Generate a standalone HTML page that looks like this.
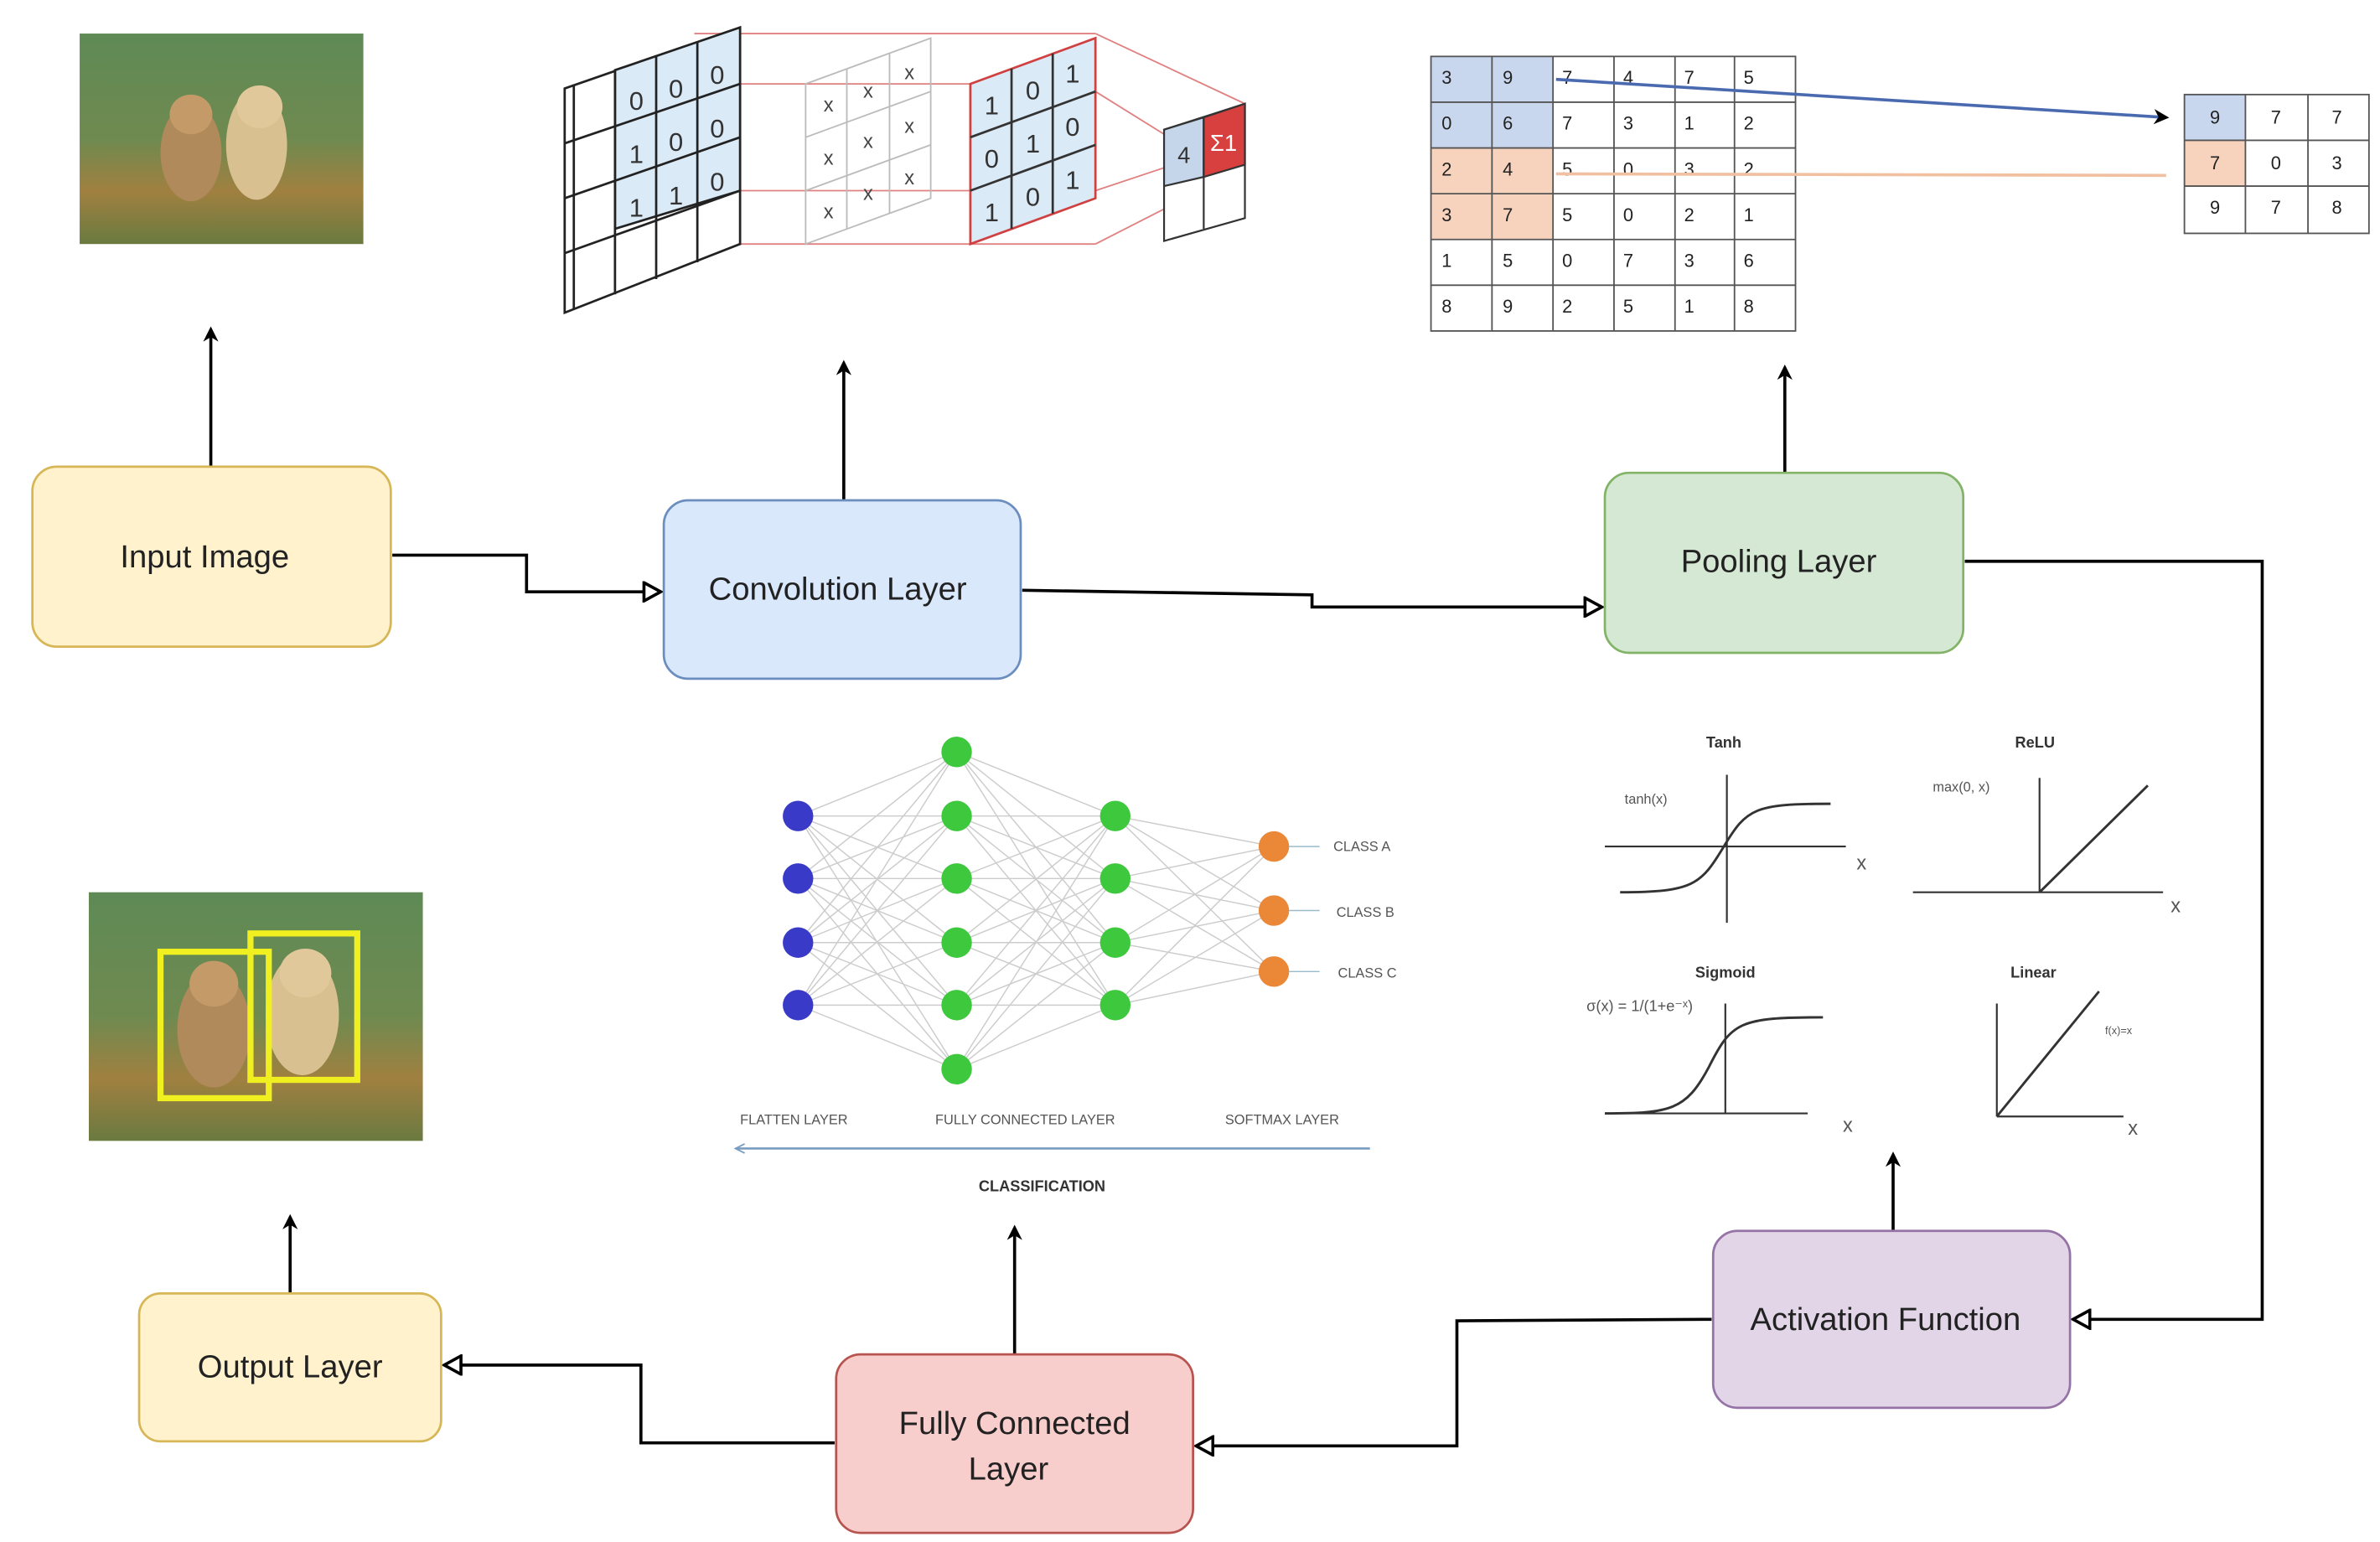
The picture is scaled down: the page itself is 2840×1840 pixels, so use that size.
<!DOCTYPE html>
<html><head><meta charset="utf-8"><style>
html,body{margin:0;padding:0;background:#fff}
svg{display:block}
text{font-family:"Liberation Sans",sans-serif}
</style></head><body>
<svg width="2840" height="1840" viewBox="0 0 1560 1011" xmlns="http://www.w3.org/2000/svg">
<defs>
<marker id="ah" markerWidth="10" markerHeight="10" refX="8" refY="5" orient="auto" markerUnits="userSpaceOnUse"><path d="M0,0 L10,5 L0,10 L3,5 z" fill="#000"/></marker>
<marker id="oh" markerWidth="14" markerHeight="14" refX="12" refY="7" orient="auto" markerUnits="userSpaceOnUse"><path d="M1,1 L12,7 L1,13 z" fill="#fff" stroke="#000" stroke-width="2"/></marker>
<linearGradient id="ph" x1="0" y1="0" x2="0" y2="1"><stop offset="0" stop-color="#5f8a55"/><stop offset="0.5" stop-color="#6f8a50"/><stop offset="0.75" stop-color="#a08040"/><stop offset="1" stop-color="#6a7a40"/></linearGradient>
</defs>
<rect width="1560" height="1011" fill="#fff"/>

<!-- input photo -->
<rect x="52" y="22" width="186" height="138" fill="url(#ph)"/>
<ellipse cx="125" cy="100" rx="20" ry="32" fill="#b08a5a"/><ellipse cx="125" cy="75" rx="14" ry="13" fill="#c49b68"/>
<ellipse cx="168" cy="95" rx="20" ry="36" fill="#d8c090"/><ellipse cx="170" cy="70" rx="15" ry="14" fill="#e0c89a"/>

<!-- output photo -->
<rect x="58" y="585" width="219" height="163" fill="url(#ph)"/>
<ellipse cx="140" cy="675" rx="24" ry="38" fill="#b08a5a"/><ellipse cx="140" cy="645" rx="16" ry="15" fill="#c49b68"/>
<ellipse cx="198" cy="665" rx="24" ry="40" fill="#d8c090"/><ellipse cx="200" cy="638" rx="17" ry="16" fill="#e0c89a"/>
<rect x="105" y="624" width="71" height="96" fill="none" stroke="#f0f020" stroke-width="4"/>
<rect x="164" y="612" width="70" height="96" fill="none" stroke="#f0f020" stroke-width="4"/>

<!-- conv illustration -->
<g stroke="#e08080" stroke-width="1" fill="none">
<line x1="455" y1="22" x2="718" y2="22"/><line x1="455" y1="160" x2="718" y2="160"/>
<line x1="718" y1="22" x2="816" y2="68"/><line x1="718" y1="160" x2="816" y2="110"/>
<line x1="718" y1="60" x2="763" y2="88"/><line x1="718" y1="125" x2="763" y2="110"/>
<line x1="485" y1="55" x2="636" y2="55"/><line x1="485" y1="125" x2="636" y2="125"/>
</g>
<g stroke="#222" stroke-width="1.5">
<polygon points="370,58 485,18 485,160 370,205" fill="#fff"/>
<polygon points="403,46 485,18 485,125 403,150" fill="#dbeaf7"/>
<line x1="403" y1="46" x2="403" y2="193"/><line x1="430" y1="37" x2="430" y2="183"/><line x1="457" y1="28" x2="457" y2="172"/>
<line x1="370" y1="94" x2="485" y2="55"/><line x1="370" y1="130" x2="485" y2="90"/><line x1="370" y1="166" x2="485" y2="125"/>
<line x1="376" y1="56" x2="376" y2="203"/>
</g>
<g font-family="Liberation Mono" font-size="17" fill="#333" text-anchor="middle">
<text x="417" y="72">0</text><text x="443" y="64">0</text><text x="470" y="55">0</text>
<text x="417" y="107">1</text><text x="443" y="99">0</text><text x="470" y="90">0</text>
<text x="417" y="142">1</text><text x="443" y="134">1</text><text x="470" y="125">0</text>
</g>
<g stroke="#bbb" stroke-width="1" fill="none">
<polygon points="528,55 610,25 610,130 528,160"/>
<line x1="555" y1="45" x2="555" y2="150"/><line x1="583" y1="35" x2="583" y2="140"/>
<line x1="528" y1="90" x2="610" y2="60"/><line x1="528" y1="125" x2="610" y2="95"/>
</g>
<g font-size="13" fill="#444" text-anchor="middle">
<text x="543" y="73">x</text><text x="569" y="64">x</text><text x="596" y="52">x</text>
<text x="543" y="108">x</text><text x="569" y="97">x</text><text x="596" y="87">x</text>
<text x="543" y="143">x</text><text x="569" y="131">x</text><text x="596" y="121">x</text>
</g>
<g stroke="#d04040" stroke-width="1.5">
<polygon points="636,55 718,25 718,130 636,160" fill="#dbeaf7"/>
<line x1="663" y1="45" x2="663" y2="150" stroke="#333"/><line x1="690" y1="35" x2="690" y2="140" stroke="#333"/>
<line x1="636" y1="90" x2="718" y2="60" stroke="#333"/><line x1="636" y1="125" x2="718" y2="95" stroke="#333"/>
</g>
<g font-family="Liberation Mono" font-size="17" fill="#333" text-anchor="middle">
<text x="650" y="75">1</text><text x="677" y="65">0</text><text x="703" y="54">1</text>
<text x="650" y="110">0</text><text x="677" y="100">1</text><text x="703" y="89">0</text>
<text x="650" y="145">1</text><text x="677" y="135">0</text><text x="703" y="124">1</text>
</g>
<g stroke="#333" stroke-width="1.2">
<polygon points="763,85 816,68 816,143 763,158" fill="#fff"/>
<polygon points="763,85 789,77 789,116 763,122" fill="#c5d6ea"/>
<polygon points="789,77 816,68 816,108 789,116" fill="#d84040"/>
<line x1="789" y1="77" x2="789" y2="150"/>
</g>
<text x="776" y="107" font-size="15" fill="#333" text-anchor="middle">4</text>
<text x="802" y="99" font-size="15" fill="#fff" text-anchor="middle">Σ1</text>

<!-- pooling grid -->
<g>
<rect x="938" y="37" width="80" height="60" fill="#c9d7ee"/>
<rect x="938" y="97" width="80" height="60" fill="#f7d2bd"/>
<g stroke="#555" stroke-width="1" fill="none">
<rect x="938" y="37" width="239" height="180"/>
<line x1="978" y1="37" x2="978" y2="217"/><line x1="1018" y1="37" x2="1018" y2="217"/><line x1="1058" y1="37" x2="1058" y2="217"/><line x1="1098" y1="37" x2="1098" y2="217"/><line x1="1137" y1="37" x2="1137" y2="217"/>
<line x1="938" y1="67" x2="1177" y2="67"/><line x1="938" y1="97" x2="1177" y2="97"/><line x1="938" y1="127" x2="1177" y2="127"/><line x1="938" y1="157" x2="1177" y2="157"/><line x1="938" y1="187" x2="1177" y2="187"/>
</g>
<g font-size="12" fill="#222">
<text x="945" y="55">3</text><text x="985" y="55">9</text><text x="1024" y="55">7</text><text x="1064" y="55">4</text><text x="1104" y="55">7</text><text x="1143" y="55">5</text>
<text x="945" y="85">0</text><text x="985" y="85">6</text><text x="1024" y="85">7</text><text x="1064" y="85">3</text><text x="1104" y="85">1</text><text x="1143" y="85">2</text>
<text x="945" y="115">2</text><text x="985" y="115">4</text><text x="1024" y="115">5</text><text x="1064" y="115">0</text><text x="1104" y="115">3</text><text x="1143" y="115">2</text>
<text x="945" y="145">3</text><text x="985" y="145">7</text><text x="1024" y="145">5</text><text x="1064" y="145">0</text><text x="1104" y="145">2</text><text x="1143" y="145">1</text>
<text x="945" y="175">1</text><text x="985" y="175">5</text><text x="1024" y="175">0</text><text x="1064" y="175">7</text><text x="1104" y="175">3</text><text x="1143" y="175">6</text>
<text x="945" y="205">8</text><text x="985" y="205">9</text><text x="1024" y="205">2</text><text x="1064" y="205">5</text><text x="1104" y="205">1</text><text x="1143" y="205">8</text>
</g>
<line x1="1020" y1="52" x2="1420" y2="77" stroke="#4a6ab0" stroke-width="2" marker-end="url(#ah)"/>
<line x1="1020" y1="114" x2="1420" y2="115" stroke="#f0c0a0" stroke-width="2"/>
<rect x="1432" y="62" width="40" height="30" fill="#c9d7ee"/>
<rect x="1432" y="92" width="40" height="30" fill="#f7d2bd"/>
<g stroke="#555" stroke-width="1" fill="none">
<rect x="1432" y="62" width="121" height="91"/>
<line x1="1472" y1="62" x2="1472" y2="153"/><line x1="1513" y1="62" x2="1513" y2="153"/>
<line x1="1432" y1="92" x2="1553" y2="92"/><line x1="1432" y1="122" x2="1553" y2="122"/>
</g>
<g font-size="12" fill="#222" text-anchor="middle">
<text x="1452" y="81">9</text><text x="1492" y="81">7</text><text x="1532" y="81">7</text>
<text x="1452" y="111">7</text><text x="1492" y="111">0</text><text x="1532" y="111">3</text>
<text x="1452" y="140">9</text><text x="1492" y="140">7</text><text x="1532" y="140">8</text>
</g>
</g>

<!-- neural net -->
<g stroke="#ccc" stroke-width="0.8">
<g id="e1">
<line x1="523" y1="535" x2="627" y2="493"/><line x1="523" y1="535" x2="627" y2="535"/><line x1="523" y1="535" x2="627" y2="576"/><line x1="523" y1="535" x2="627" y2="618"/><line x1="523" y1="535" x2="627" y2="659"/><line x1="523" y1="535" x2="627" y2="701"/>
<line x1="523" y1="576" x2="627" y2="493"/><line x1="523" y1="576" x2="627" y2="535"/><line x1="523" y1="576" x2="627" y2="576"/><line x1="523" y1="576" x2="627" y2="618"/><line x1="523" y1="576" x2="627" y2="659"/><line x1="523" y1="576" x2="627" y2="701"/>
<line x1="523" y1="618" x2="627" y2="493"/><line x1="523" y1="618" x2="627" y2="535"/><line x1="523" y1="618" x2="627" y2="576"/><line x1="523" y1="618" x2="627" y2="618"/><line x1="523" y1="618" x2="627" y2="659"/><line x1="523" y1="618" x2="627" y2="701"/>
<line x1="523" y1="659" x2="627" y2="493"/><line x1="523" y1="659" x2="627" y2="535"/><line x1="523" y1="659" x2="627" y2="576"/><line x1="523" y1="659" x2="627" y2="618"/><line x1="523" y1="659" x2="627" y2="659"/><line x1="523" y1="659" x2="627" y2="701"/>
</g>
<line x1="627" y1="493" x2="731" y2="535"/><line x1="627" y1="493" x2="731" y2="576"/><line x1="627" y1="493" x2="731" y2="618"/><line x1="627" y1="493" x2="731" y2="659"/>
<line x1="627" y1="535" x2="731" y2="535"/><line x1="627" y1="535" x2="731" y2="576"/><line x1="627" y1="535" x2="731" y2="618"/><line x1="627" y1="535" x2="731" y2="659"/>
<line x1="627" y1="576" x2="731" y2="535"/><line x1="627" y1="576" x2="731" y2="576"/><line x1="627" y1="576" x2="731" y2="618"/><line x1="627" y1="576" x2="731" y2="659"/>
<line x1="627" y1="618" x2="731" y2="535"/><line x1="627" y1="618" x2="731" y2="576"/><line x1="627" y1="618" x2="731" y2="618"/><line x1="627" y1="618" x2="731" y2="659"/>
<line x1="627" y1="659" x2="731" y2="535"/><line x1="627" y1="659" x2="731" y2="576"/><line x1="627" y1="659" x2="731" y2="618"/><line x1="627" y1="659" x2="731" y2="659"/>
<line x1="627" y1="701" x2="731" y2="535"/><line x1="627" y1="701" x2="731" y2="576"/><line x1="627" y1="701" x2="731" y2="618"/><line x1="627" y1="701" x2="731" y2="659"/>
<line x1="731" y1="535" x2="835" y2="555"/><line x1="731" y1="535" x2="835" y2="597"/><line x1="731" y1="535" x2="835" y2="637"/>
<line x1="731" y1="576" x2="835" y2="555"/><line x1="731" y1="576" x2="835" y2="597"/><line x1="731" y1="576" x2="835" y2="637"/>
<line x1="731" y1="618" x2="835" y2="555"/><line x1="731" y1="618" x2="835" y2="597"/><line x1="731" y1="618" x2="835" y2="637"/>
<line x1="731" y1="659" x2="835" y2="555"/><line x1="731" y1="659" x2="835" y2="597"/><line x1="731" y1="659" x2="835" y2="637"/>
<line x1="845" y1="555" x2="865" y2="555" stroke="#9bc"/><line x1="845" y1="597" x2="865" y2="597" stroke="#9bc"/><line x1="845" y1="637" x2="865" y2="637" stroke="#9bc"/>
</g>
<g fill="#3a3ac8"><circle cx="523" cy="535" r="10"/><circle cx="523" cy="576" r="10"/><circle cx="523" cy="618" r="10"/><circle cx="523" cy="659" r="10"/></g>
<g fill="#3ec83e"><circle cx="627" cy="493" r="10"/><circle cx="627" cy="535" r="10"/><circle cx="627" cy="576" r="10"/><circle cx="627" cy="618" r="10"/><circle cx="627" cy="659" r="10"/><circle cx="627" cy="701" r="10"/>
<circle cx="731" cy="535" r="10"/><circle cx="731" cy="576" r="10"/><circle cx="731" cy="618" r="10"/><circle cx="731" cy="659" r="10"/></g>
<g fill="#ea8838"><circle cx="835" cy="555" r="10"/><circle cx="835" cy="597" r="10"/><circle cx="835" cy="637" r="10"/></g>
<g font-size="9" fill="#555">
<text x="874" y="558">CLASS A</text><text x="876" y="601">CLASS B</text><text x="877" y="641">CLASS C</text>
<text x="485" y="737">FLATTEN LAYER</text><text x="613" y="737">FULLY CONNECTED LAYER</text><text x="803" y="737">SOFTMAX LAYER</text>
</g>
<line x1="898" y1="753" x2="482" y2="753" stroke="#7a9cc0" stroke-width="1.5"/>
<path d="M488,750 L482,753 L488,756" fill="none" stroke="#7a9cc0"/>
<text x="683" y="781" font-size="10" font-weight="bold" fill="#333" text-anchor="middle">CLASSIFICATION</text>

<!-- activation plots -->
<g stroke="#333" stroke-width="1.2" fill="none">
<line x1="1052" y1="555" x2="1210" y2="555"/><line x1="1132" y1="508" x2="1132" y2="605"/>
<path d="M1062,585 C1110,585 1115,580 1130,555 C1145,530 1150,527 1200,527" stroke-width="1.6"/>
<line x1="1254" y1="585" x2="1418" y2="585"/><line x1="1337" y1="510" x2="1337" y2="585"/>
<line x1="1337" y1="585" x2="1408" y2="515" stroke-width="1.6"/>
<line x1="1052" y1="730" x2="1185" y2="730"/><line x1="1131" y1="658" x2="1131" y2="730"/>
<path d="M1052,730 C1095,730 1105,728 1120,700 C1135,670 1140,667 1195,667" stroke-width="1.6"/>
<line x1="1309" y1="732" x2="1392" y2="732"/><line x1="1309" y1="658" x2="1309" y2="732"/>
<line x1="1309" y1="732" x2="1376" y2="650" stroke-width="1.6"/>
</g>
<g font-size="10" font-weight="bold" fill="#333" text-anchor="middle">
<text x="1130" y="490">Tanh</text><text x="1334" y="490">ReLU</text><text x="1131" y="641">Sigmoid</text><text x="1333" y="641">Linear</text>
</g>
<g font-family="Liberation Serif" fill="#555">
<text x="1217" y="570" font-size="13">x</text><text x="1423" y="598" font-size="13">x</text>
<text x="1208" y="742" font-size="13">x</text><text x="1395" y="744" font-size="13">x</text>
<text x="1065" y="527" font-size="9">tanh(x)</text><text x="1267" y="519" font-size="9">max(0, x)</text>
<text x="1040" y="663" font-size="10">σ(x) = 1/(1+e⁻ˣ)</text><text x="1380" y="678" font-size="7">f(x)=x</text>
</g>

<!-- connectors -->
<g stroke="#000" stroke-width="2" fill="none">
<line x1="138" y1="306" x2="138" y2="216" marker-end="url(#ah)"/>
<line x1="553" y1="328" x2="553" y2="238" marker-end="url(#ah)"/>
<line x1="1170" y1="310" x2="1170" y2="241" marker-end="url(#ah)"/>
<line x1="1241" y1="807" x2="1241" y2="757" marker-end="url(#ah)"/>
<line x1="665" y1="888" x2="665" y2="805" marker-end="url(#ah)"/>
<line x1="190" y1="848" x2="190" y2="798" marker-end="url(#ah)"/>
<polyline points="257,364 345,364 345,388 433,388" marker-end="url(#oh)"/>
<polyline points="670,387 860,390 860,398 1050,398" marker-end="url(#oh)"/>
<polyline points="1288,368 1483,368 1483,865 1359,865" marker-end="url(#oh)"/>
<polyline points="1122,865 955,866 955,948 784,948" marker-end="url(#oh)"/>
<polyline points="547,946 420,946 420,895 291,895" marker-end="url(#oh)"/>
</g>

<!-- boxes -->
<g stroke-width="1.5">
<rect x="21" y="306" width="235" height="118" rx="16" fill="#fff2cc" stroke="#d6b656"/>
<rect x="435" y="328" width="234" height="117" rx="16" fill="#dae8fc" stroke="#6c8ebf"/>
<rect x="1052" y="310" width="235" height="118" rx="16" fill="#d5e8d4" stroke="#82b366"/>
<rect x="1123" y="807" width="234" height="116" rx="16" fill="#e1d5e7" stroke="#9673a6"/>
<rect x="548" y="888" width="234" height="117" rx="16" fill="#f8cecc" stroke="#b85450"/>
<rect x="91" y="848" width="198" height="97" rx="14" fill="#fff2cc" stroke="#d6b656"/>
</g>
<g font-size="21" fill="#222" text-anchor="middle">
<text x="134" y="372">Input Image</text>
<text x="549" y="393">Convolution Layer</text>
<text x="1166" y="375">Pooling Layer</text>
<text x="1236" y="872">Activation Function</text>
<text x="665" y="940">Fully Connected</text>
<text x="661" y="970">Layer</text>
<text x="190" y="903">Output Layer</text>
</g>
</svg>
</body></html>
